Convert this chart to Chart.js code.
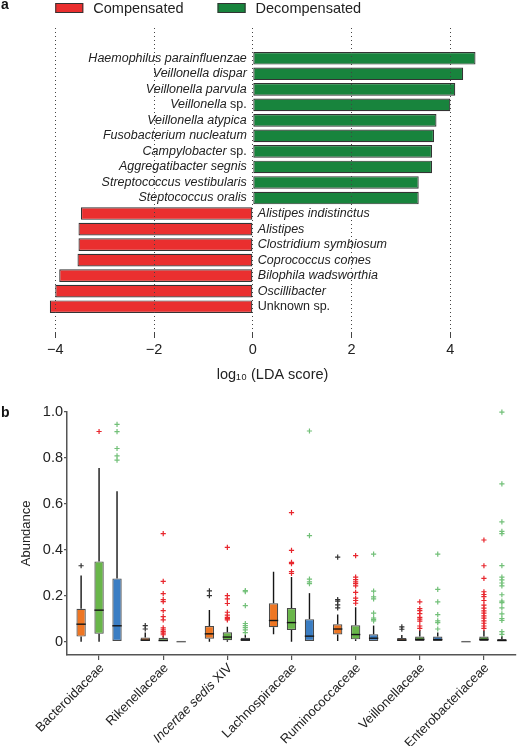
<!DOCTYPE html>
<html>
<head>
<meta charset="utf-8">
<script src="https://cdn.jsdelivr.net/npm/chart.js@4.4.0/dist/chart.umd.min.js"></script>
<style>
  html, body { margin: 0; padding: 0; background: #fff; }
  #page { position: relative; width: 518px; height: 746px; overflow: hidden; }
  canvas { position: absolute; left: 0; }
  #ldaChart { top: 0; }
  #boxChart { top: 390px; }
</style>
</head>
<body>
<div id="page">
  <canvas id="ldaChart" width="518" height="390"></canvas>
  <canvas id="boxChart" width="518" height="356"></canvas>
</div>
<script>
// ---- panel a: LDA scores (top to bottom) ----
const taxa = [
  'Haemophilus parainfluenzae', 'Veillonella dispar', 'Veillonella parvula', 'Veillonella sp.',
  'Veillonella atypica', 'Fusobacterium nucleatum', 'Campylobacter sp.', 'Aggregatibacter segnis',
  'Streptococcus vestibularis', 'Steptococcus oralis', 'Alistipes indistinctus', 'Alistipes',
  'Clostridium symbiosum', 'Coprococcus comes', 'Bilophila wadsworthia', 'Oscillibacter', 'Unknown sp.'
];
const ldaScores = [4.51, 4.26, 4.10, 4.00, 3.72, 3.67, 3.63, 3.63, 3.36, 3.36,
  -3.48, -3.53, -3.53, -3.55, -3.92, -4.00, -4.11];
const ldaTicks = [-4, -2, 0, 2, 4];

// ---- panel b: abundance box plots ----
const families = ['Bacteroidaceae', 'Rikenellaceae', 'Incertae sedis XIV', 'Lachnospiraceae',
  'Ruminococcaceae', 'Veillonellaceae', 'Enterobacteriaceae'];
const abundanceTicks = [0, 0.2, 0.4, 0.6, 0.8, 1.0];
// [whisker low, q1, median, q3, whisker high]
const orangeBoxes = [
  [0, 0.022, 0.076, 0.143, 0.288], [0, 0, 0.007, 0.018, 0.04], [0, 0.013, 0.034, 0.068, 0.138],
  [0.032, 0.063, 0.092, 0.167, 0.304], [0.003, 0.031, 0.055, 0.076, 0.118], [0, 0, 0.007, 0.016, 0.029],
  [0, 0, 0, 0, 0]
];
const greenBoxes = [
  [0, 0.034, 0.137, 0.349, 0.755], [0, 0, 0.005, 0.017, 0.025], [0, 0.006, 0.02, 0.041, 0.065],
  [0, 0.051, 0.083, 0.146, 0.281], [0.003, 0.01, 0.031, 0.071, 0.15], [0, 0, 0.01, 0.022, 0.051],
  [0, 0, 0.01, 0.022, 0.05]
];
const blueBoxes = [
  [0, 0, 0.069, 0.275, 0.654], [0, 0, 0, 0, 0], [0, 0, 0.008, 0.017, 0.03],
  [0, 0, 0.024, 0.098, 0.211], [0, 0, 0.015, 0.032, 0.07], [0, 0, 0.009, 0.022, 0.04],
  [0, 0, 0.005, 0.012, 0.025]
];
const orangeOutliers = [
  [0.33], [0.07, 0.055], [0.221, 0.2], [], [0.368, 0.183, 0.176, 0.16, 0.147], [0.064, 0.054], []
];
const greenOutliers = [
  [0.914],
  [0.47, 0.262, 0.209, 0.183, 0.174, 0.135, 0.109, 0.095, 0.06, 0.051, 0.044, 0.037, 0.03],
  [0.41, 0.2, 0.186, 0.166, 0.128, 0.115, 0.106, 0.1, 0.095],
  [0.561, 0.397, 0.345, 0.339, 0.305, 0.297],
  [0.374, 0.281, 0.27, 0.26, 0.252, 0.243, 0.214, 0.189, 0.179, 0.167],
  [0.173, 0.144, 0.135, 0.122, 0.106, 0.098, 0.089, 0.068, 0.058],
  [0.442, 0.33, 0.275, 0.217, 0.205, 0.196, 0.179, 0.159, 0.146, 0.134, 0.124, 0.112, 0.102, 0.09, 0.08, 0.068, 0.058]
];
const blueOutliers = [
  [0.945, 0.913, 0.84, 0.808, 0.789],
  [],
  [0.222, 0.217, 0.157, 0.079, 0.07, 0.061, 0.051, 0.039],
  [0.916, 0.461, 0.272, 0.26, 0.252],
  [0.381, 0.22, 0.195, 0.186, 0.124, 0.103, 0.097, 0.09],
  [0.381, 0.227, 0.173, 0.118, 0.09, 0.083, 0.055],
  [0.998, 0.686, 0.521, 0.48, 0.47, 0.331, 0.281, 0.269, 0.255, 0.243, 0.204, 0.176, 0.17, 0.147, 0.121, 0.1, 0.092, 0.044, 0.032]
];

const FONT = '"Liberation Sans", Arial, sans-serif';
const INK = '#222';
Chart.defaults.font.family = FONT;
Chart.defaults.color = INK;

// which words are set upright / italic in the labels
const romanWords = ['sp.', 'Unknown'];
const italicWords = ['Incertae', 'sedis'];

function labelParts(text, italicDefault) {
  const parts = [];
  text.split(' ').forEach((w, k) => {
    const it = italicDefault ? !romanWords.includes(w) : italicWords.includes(w);
    const s = (k > 0 ? ' ' : '') + w;
    if (parts.length && parts[parts.length - 1].it === it) parts[parts.length - 1].s += s;
    else parts.push({ s, it });
  });
  return parts;
}

function drawParts(ctx, parts, x, y, size, align) {
  let total = 0;
  parts.forEach(p => {
    ctx.font = (p.it ? 'italic ' : '') + size + 'px ' + FONT;
    p.w = ctx.measureText(p.s).width;
    total += p.w;
  });
  let cx = align === 'right' ? x - total : x;
  ctx.textAlign = 'left';
  parts.forEach(p => {
    ctx.font = (p.it ? 'italic ' : '') + size + 'px ' + FONT;
    ctx.fillText(p.s, cx, y);
    cx += p.w;
  });
}

// ---------------- panel a ----------------
const points = taxa.map((t, i) => ({ x: ldaScores[i], y: i }));

const ldaLabels = {
  id: 'ldaLabels',
  afterDraw(chart) {
    const ctx = chart.ctx;
    const xs = chart.scales.x, ys = chart.scales.y;
    const x0 = xs.getPixelForValue(0);
    ctx.save();
    ctx.fillStyle = INK;
    ctx.textBaseline = 'middle';
    taxa.forEach((t, i) => {
      const y = ys.getPixelForValue(i);
      if (ldaScores[i] > 0) drawParts(ctx, labelParts(t, true), x0 - 6, y, 12.5, 'right');
      else drawParts(ctx, labelParts(t, true), x0 + 5, y, 12.5, 'left');
    });
    // legend
    ctx.textBaseline = 'alphabetic';
    ctx.font = '14.5px ' + FONT;
    let lx = xs.getPixelForValue(-4);
    chart.data.datasets.forEach(ds => {
      ctx.fillStyle = ds.backgroundColor;
      ctx.fillRect(lx, 3, 28, 10);
      ctx.strokeStyle = '#333';
      ctx.lineWidth = 1;
      ctx.strokeRect(lx + 0.5, 3.5, 27, 9);
      ctx.fillStyle = INK;
      ctx.fillText(ds.label, lx + 38, 13);
      lx += 38 + ctx.measureText(ds.label).width + 34;
    });
    ctx.font = 'bold 14px ' + FONT;
    ctx.fillStyle = '#111';
    ctx.fillText('a', 1, 9);
    ctx.restore();
  }
};

new Chart(document.getElementById('ldaChart'), {
  type: 'bar',
  data: {
    datasets: [
      {
        label: 'Compensated',
        data: points.filter(p => p.x < 0),
        backgroundColor: '#ea2f2f',
        borderColor: '#333',
        borderWidth: 1.2,
        borderSkipped: false,
        grouped: false,
        categoryPercentage: 1,
        barPercentage: 0.84
      },
      {
        label: 'Decompensated',
        data: points.filter(p => p.x > 0),
        backgroundColor: '#18843d',
        borderColor: '#333',
        borderWidth: 1.2,
        borderSkipped: false,
        grouped: false,
        categoryPercentage: 1,
        barPercentage: 0.84
      }
    ]
  },
  options: {
    indexAxis: 'y',
    responsive: false,
    animation: false,
    layout: { padding: { left: 45.4, right: 18.3, top: 28, bottom: 0 } },
    plugins: { legend: { display: false }, tooltip: { enabled: false } },
    scales: {
      x: {
        type: 'linear',
        min: -4.2,
        max: 5.0,
        afterBuildTicks: s => { s.ticks = ldaTicks.map(v => ({ value: v })); },
        afterFit: s => { s.height = 58; },
        grid: { color: '#444', lineWidth: 1, z: 1, tickLength: 6, tickBorderDash: [] },
        border: { display: false, dash: [1, 3] },
        ticks: {
          padding: 3,
          font: { size: 14.5 },
          color: INK,
          callback: v => (v < 0 ? '\u2212' + Math.abs(v) : String(v))
        },
        title: {
          display: true,
          text: 'log\u2081\u2080 (LDA score)',
          font: { size: 14.5 },
          color: INK,
          padding: { top: 0, bottom: 6 }
        }
      },
      y: { type: 'linear', reverse: true, min: -0.97, max: 16.65, display: false }
    }
  },
  plugins: [ldaLabels]
});

// ---------------- panel b ----------------
function boxDataset(stats, outliers, fill, outlierColor) {
  return {
    data: stats.map(s => [s[1], s[3]]),
    stats: stats,
    outliers: outliers,
    outlierColor: outlierColor,
    backgroundColor: fill,
    borderColor: '#4a4a4a',
    borderWidth: 1.2,
    borderSkipped: false,
    categoryPercentage: 0.84,
    barPercentage: 0.52
  };
}

const boxParts = {
  id: 'boxParts',
  beforeDatasetsDraw(chart) {
    const ctx = chart.ctx, ys = chart.scales.y;
    ctx.save();
    ctx.strokeStyle = '#151515';
    ctx.lineWidth = 1.4;
    chart.data.datasets.forEach((ds, d) => {
      chart.getDatasetMeta(d).data.forEach((bar, i) => {
        const s = ds.stats[i];
        ctx.beginPath();
        ctx.moveTo(bar.x, ys.getPixelForValue(s[0]));
        ctx.lineTo(bar.x, ys.getPixelForValue(s[1]));
        ctx.moveTo(bar.x, ys.getPixelForValue(s[3]));
        ctx.lineTo(bar.x, ys.getPixelForValue(s[4]));
        ctx.stroke();
      });
    });
    ctx.restore();
  },
  afterDatasetsDraw(chart) {
    const ctx = chart.ctx, ys = chart.scales.y;
    ctx.save();
    chart.data.datasets.forEach((ds, d) => {
      chart.getDatasetMeta(d).data.forEach((bar, i) => {
        const s = ds.stats[i];
        const half = bar.width / 2;
        const ym = ys.getPixelForValue(s[2]);
        ctx.strokeStyle = s[3] === s[1] ? '#666' : '#151515';
        ctx.lineWidth = 1.4;
        ctx.beginPath();
        ctx.moveTo(bar.x - half, ym);
        ctx.lineTo(bar.x + half, ym);
        ctx.stroke();
        ctx.strokeStyle = ds.outlierColor;
        ctx.lineWidth = 1.2;
        ds.outliers[i].forEach(v => {
          const yo = ys.getPixelForValue(v);
          ctx.beginPath();
          ctx.moveTo(bar.x - 2.6, yo);
          ctx.lineTo(bar.x + 2.6, yo);
          ctx.moveTo(bar.x, yo - 2.6);
          ctx.lineTo(bar.x, yo + 2.6);
          ctx.stroke();
        });
      });
    });
    ctx.restore();
  },
  afterDraw(chart) {
    const ctx = chart.ctx, xs = chart.scales.x;
    ctx.save();
    ctx.fillStyle = INK;
    ctx.textBaseline = 'middle';
    families.forEach((f, i) => {
      const x = xs.getPixelForTick(i);
      ctx.save();
      ctx.translate(x + 3, xs.top + 11);
      ctx.rotate(-Math.PI / 4);
      drawParts(ctx, labelParts(f, false), 0, 0, 13, 'right');
      ctx.restore();
    });
    ctx.font = 'bold 14px ' + FONT;
    ctx.fillStyle = '#111';
    ctx.textBaseline = 'alphabetic';
    ctx.fillText('b', 1, 27);
    ctx.restore();
  }
};

new Chart(document.getElementById('boxChart'), {
  type: 'bar',
  data: {
    labels: families,
    datasets: [
      boxDataset(orangeBoxes, orangeOutliers, '#ee7623', '#333'),
      boxDataset(greenBoxes, greenOutliers, '#69b64a', '#e8262d'),
      boxDataset(blueBoxes, blueOutliers, '#3a7dc3', '#72c078')
    ]
  },
  options: {
    responsive: false,
    animation: false,
    layout: { padding: { left: 0, top: 21.7, right: 2, bottom: 0 } },
    plugins: { legend: { display: false }, tooltip: { enabled: false } },
    scales: {
      x: {
        afterFit: s => { s.height = 91; },
        grid: { offset: false, drawOnChartArea: false, tickLength: 5, color: '#555', lineWidth: 1.2 },
        border: { color: '#555', width: 1.5 },
        ticks: { display: false }
      },
      y: {
        min: -0.058,
        max: 1.0,
        afterBuildTicks: s => { s.ticks = abundanceTicks.map(v => ({ value: v })); },
        afterFit: s => { s.width = 67; },
        grid: { drawOnChartArea: false, tickLength: 3, color: '#555', lineWidth: 1.2 },
        border: { color: '#555', width: 1.5 },
        ticks: {
          padding: 1,
          font: { size: 14.5 },
          color: INK,
          callback: v => (v === 0 ? '0' : v.toFixed(1))
        },
        title: {
          display: true,
          text: 'Abundance',
          font: { size: 13 },
          color: INK,
          padding: { top: 19, bottom: 0 }
        }
      }
    }
  },
  plugins: [boxParts]
});
</script>
</body>
</html>
